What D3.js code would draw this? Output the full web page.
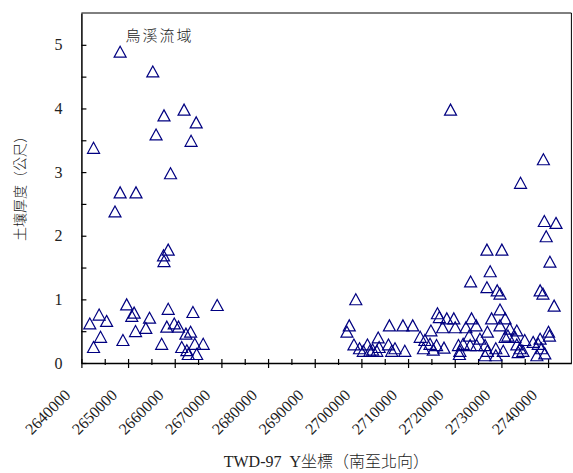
<!DOCTYPE html>
<html>
<head>
<meta charset="utf-8">
<script src="https://cdn.jsdelivr.net/npm/d3@7"></script>
<style>
  body { margin: 0; background: #fff; }
  .num { font-family: "Liberation Serif", "Times New Roman", serif; font-size: 16px; fill: #222; }
  .cjk { font-family: "Noto Sans CJK TC", "Noto Sans CJK SC", sans-serif; fill: #222; }
</style>
</head>
<body>
<div id="chart"></div>
<script>
// chart texts
const basinName = "烏溪流域";
const xTitle = "TWD-97  Y坐標（南至北向）";
const yTitle = "土壤厚度（公尺）";

// ticks
const xMajorTicks = [2640000, 2650000, 2660000, 2670000, 2680000, 2690000, 2700000, 2710000, 2720000, 2730000, 2740000];
const xMinorTicks = [2645000, 2655000, 2665000, 2675000, 2685000, 2695000, 2705000, 2715000, 2725000, 2735000];
const yTicks = [0, 1, 2, 3, 4, 5];
const yMinorTicks = [0.5, 1.5, 2.5, 3.5, 4.5];

// southern group (TWD-97 Y, soil thickness m)
const northingSouth = [
  2648300, 2655300, 2662000, 2657700, 2664600, 2656000, 2663500, 2642600, 2659100, 2648300,
  2651700, 2647200, 2658600, 2657600, 2657700,
  2642600, 2644100, 2648900, 2657200, 2641800, 2643800, 2645400, 2649700, 2651300, 2650800,
  2651600, 2653800, 2654600, 2658600, 2658300, 2659900, 2660800, 2663900, 2669100, 2662400,
  2663400, 2661500, 2664300, 2666100, 2662600, 2662900, 2664700
];
const thicknessSouth = [
  4.89, 4.58, 3.98, 3.89, 3.78, 3.59, 3.49, 3.38, 2.98, 2.68,
  2.68, 2.38, 1.78, 1.69, 1.60,
  0.25, 0.41, 0.36, 0.30, 0.62, 0.76, 0.66, 0.92, 0.79, 0.74,
  0.50, 0.55, 0.71, 0.85, 0.57, 0.62, 0.57, 0.80, 0.91, 0.46,
  0.49, 0.25, 0.30, 0.30, 0.20, 0.14, 0.14
];

// northern group
const northingNorth = [
  2719100, 2739000, 2734100, 2739200, 2741700, 2739600, 2726900, 2730100, 2740400, 2727600,
  2723400, 2726900, 2729100, 2729700, 2738300, 2738900, 2698800, 2741300, 2729700, 2716300,
  2716700, 2718300, 2719800, 2723600, 2727900, 2730800, 2697400, 2706000, 2708900, 2711000,
  2717400, 2720100, 2722400, 2724600, 2729700, 2696900, 2714900, 2727000, 2731800, 2733300,
  2731400, 2732900, 2740100, 2740300, 2703600, 2712600, 2713600, 2698400, 2699600, 2701300,
  2702400, 2703800, 2705800, 2707200, 2709300, 2700400, 2701800, 2703300, 2706500, 2714700,
  2716100, 2717700, 2713300, 2715400, 2720800, 2721800, 2723300, 2724700, 2721100, 2721000,
  2726500, 2727000, 2726500, 2728800, 2730400, 2728800, 2733300, 2734000, 2734600, 2733600,
  2736800, 2737900, 2738600, 2737600, 2739300, 2723100, 2725400, 2735000, 2738300, 2730800
];
const thicknessNorth = [
  3.98, 3.20, 2.83, 2.23, 2.20, 1.99, 1.78, 1.78, 1.59, 1.44,
  1.28, 1.19, 1.14, 1.09, 1.14, 1.09, 1.00, 0.90, 0.84, 0.78,
  0.72, 0.70, 0.70, 0.70, 0.70, 0.70, 0.59, 0.59, 0.59, 0.59,
  0.56, 0.56, 0.56, 0.59, 0.59, 0.49, 0.51, 0.49, 0.54, 0.51,
  0.43, 0.41, 0.49, 0.43, 0.40, 0.41, 0.36, 0.29, 0.23, 0.29,
  0.21, 0.25, 0.29, 0.23, 0.19, 0.19, 0.19, 0.19, 0.19, 0.30,
  0.28, 0.24, 0.23, 0.21, 0.28, 0.30, 0.28, 0.28, 0.19, 0.14,
  0.28, 0.19, 0.12, 0.23, 0.19, 0.12, 0.29, 0.23, 0.19, 0.17,
  0.33, 0.30, 0.23, 0.12, 0.15, 0.43, 0.38, 0.36, 0.38, 0.41
];

document.addEventListener("DOMContentLoaded", function () {
  const margin = { top: 13, right: 1.6, bottom: 110, left: 81.4 },
        width = 573 - margin.left - margin.right,
        height = 473 - margin.top - margin.bottom;

  const root = d3.select("#chart")
                 .append("svg")
                 .attr("width", 573)
                 .attr("height", 473);

  const svg = root.append("g")
                  .attr("transform", `translate(${margin.left},${margin.top})`);

  const x = d3.scaleLinear().domain([2640000, 2745000]).range([0, width]);
  const y = d3.scaleLinear().domain([0, 5.5]).range([height, 0]);

  // frame (top and right)
  svg.append("path")
     .attr("d", `M0,0H${width}V${height}`)
     .attr("fill", "none")
     .attr("stroke", "#000")
     .attr("stroke-width", 1);

  // y axis: inner ticks
  svg.append("g")
     .call(d3.axisRight(y).tickValues(yTicks.concat(yMinorTicks)).tickSize(5).tickSizeOuter(0).tickFormat(""))
     .call(g => g.selectAll("line").attr("stroke", "#000").attr("stroke-width", 1.2))
     .call(g => g.select(".domain").attr("stroke", "#000").attr("stroke-width", 1.5));

  svg.append("g")
     .call(d3.axisLeft(y).tickValues(yTicks).tickSize(0).tickPadding(19).tickFormat(d3.format("d")))
     .call(g => g.select(".domain").remove())
     .call(g => g.selectAll("text").attr("class", "num").attr("font-family", null).attr("font-size", null).attr("fill", null));

  // x axis: crossing ticks
  const xAxisG = svg.append("g").attr("transform", `translate(0,${height})`);
  xAxisG.append("g")
        .call(d3.axisBottom(x).tickValues(xMajorTicks).tickSize(5).tickSizeOuter(0).tickFormat(""))
        .call(g => g.selectAll("line").attr("stroke", "#000").attr("stroke-width", 1.2))
        .call(g => g.select(".domain").attr("stroke", "#000").attr("stroke-width", 1.5));
  xAxisG.append("g")
        .call(d3.axisTop(x).tickValues(xMajorTicks.concat(xMinorTicks)).tickSize(4).tickSizeOuter(0).tickFormat(""))
        .call(g => g.selectAll("line").attr("stroke", "#000").attr("stroke-width", 1.2))
        .call(g => g.select(".domain").remove());
  xAxisG.append("g")
        .call(d3.axisBottom(x).tickValues(xMinorTicks).tickSize(2).tickSizeOuter(0).tickFormat(""))
        .call(g => g.selectAll("line").attr("stroke", "#000").attr("stroke-width", 1.2))
        .call(g => g.select(".domain").remove());

  // rotated x labels
  svg.selectAll(".xlab")
     .data(xMajorTicks)
     .enter()
     .append("text")
     .attr("class", "num xlab")
     .attr("text-anchor", "end")
     .attr("transform", d => `translate(${x(d) - 10},${height + 33}) rotate(-45)`)
     .text(d => d);

  // axis titles
  svg.append("text")
     .attr("class", "cjk")
     .attr("transform", `translate(${-61},${height / 2 - 3}) rotate(-90)`)
     .attr("text-anchor", "middle")
     .attr("dy", "0.35em")
     .style("font-size", "14px")
     .style("font-weight", 300)
     .text(yTitle);

  const xt = svg.append("text")
     .attr("x", width / 2)
     .attr("y", height + 104)
     .attr("text-anchor", "middle")
     .style("font-size", "16px");
  xt.append("tspan").attr("class", "num").text("TWD-97\u00a0\u00a0Y");
  xt.append("tspan").attr("class", "cjk").style("font-weight", 300).text("坐標（南至北向）");

  svg.append("text")
     .attr("class", "cjk")
     .attr("x", 44)
     .attr("y", 28)
     .style("font-size", "15px")
     .style("font-weight", 300)
     .style("letter-spacing", "2px")
     .text(basinName);

  // points
  const tri = "M0,-5.6L6,5.4L-6,5.4Z";
  const groups = [
    { xs: northingSouth, ys: thicknessSouth },
    { xs: northingNorth, ys: thicknessNorth }
  ];
  groups.forEach(({ xs, ys }) => {
    svg.append("g")
       .selectAll("path")
       .data(xs.map((v, i) => [v, ys[i]]))
       .enter()
       .append("path")
       .attr("d", tri)
       .attr("transform", d => `translate(${x(d[0])},${y(d[1])})`)
       .attr("fill", "none")
       .attr("stroke", "#000080")
       .attr("stroke-width", 1.2);
  });
});
</script>
</body>
</html>
